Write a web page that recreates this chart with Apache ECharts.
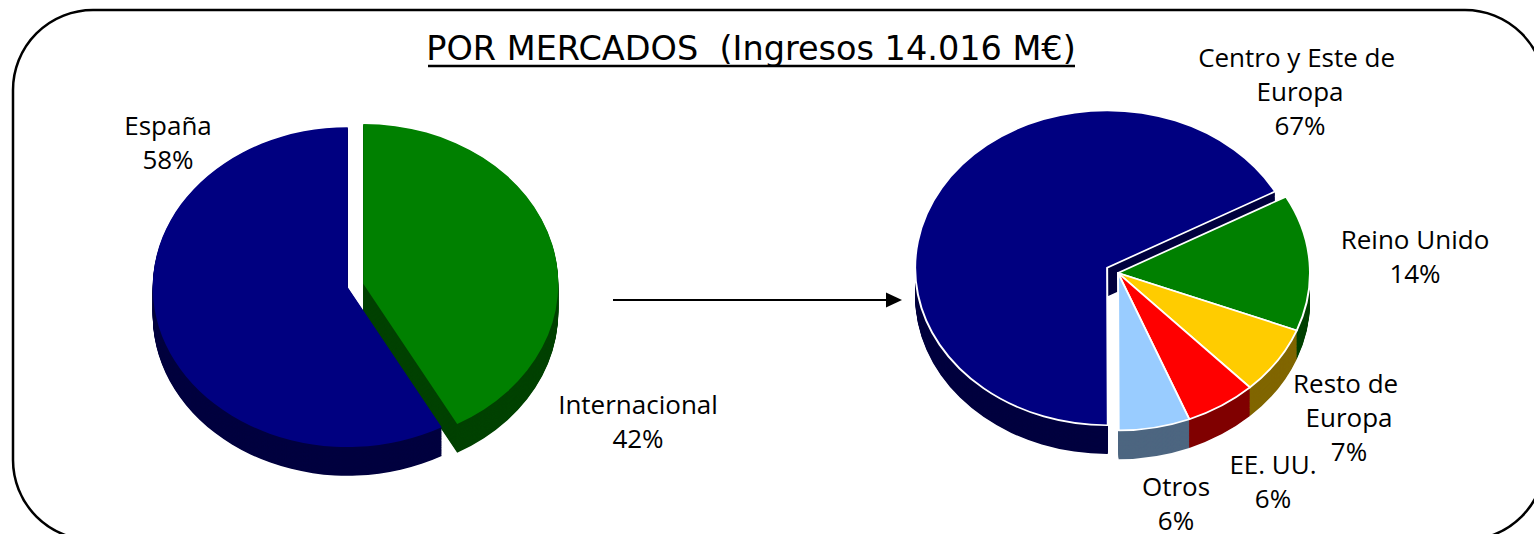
<!DOCTYPE html>
<html>
<head>
<meta charset="utf-8">
<script src="https://cdn.jsdelivr.net/npm/echarts@6/dist/echarts.min.js"></script>
<style>
html,body{margin:0;padding:0;background:#fff;}
#wrap{position:relative;width:1534px;height:534px;overflow:hidden;background:#fff;}
#pies{position:absolute;left:0;top:0;width:1534px;height:651px;transform:scaleY(0.82);transform-origin:0 0;}
#ov{position:absolute;left:0;top:0;width:1534px;height:534px;pointer-events:none;}
</style>
</head>
<body>
<div id="wrap"><div id="pies"></div><div id="ov"></div></div>
<script>
// ---- data ----
var titleText = 'POR MERCADOS  (Ingresos 14.016 M€)';
var leftNames = ['Internacional', 'España'];
var leftValues = [42, 58];
var rightNames = ['Reino Unido', 'Resto de Europa', 'EE. UU.', 'Otros', 'Centro y Este de Europa'];
var rightValues = [14, 7, 6, 6, 67];

// ---- styles ----
var FONT = '"Open Sans", "DejaVu Sans", sans-serif';
var TFONT = '"DejaVu Sans", sans-serif';
var S = 0.82;            // vertical squash of the pie layer (tilt)
var DEPTH = 35;          // extrusion depth in pie-layer px
var leftTop = ['#008000', '#000080'];
var leftSide = ['#004200', '#00003f'];
var rightTop = ['#008000', '#ffcc00', '#ff0000', '#99ccff', '#000080'];
var rightSide = ['#004200', '#806600', '#800000', '#4d6680', '#00003f'];

var pies = [
  {names: leftNames, values: leftValues, top: leftTop, side: leftSide,
   center: [355.5, 285.5 / S], r: 195, start: 90, offset: 8, sel: [true, true], border: 0},
  {names: rightNames, values: rightValues, top: rightTop, side: rightSide,
   center: [1118, 273 / S], r: 192, start: 29, offset: 12.6, sel: [false, false, false, false, true], border: 2}
];

function pieSeries(p, dy, colors, border) {
  return {
    type: 'pie', silent: true, animation: false,
    center: [p.center[0], p.center[1] + dy], radius: p.r,
    startAngle: p.start, clockwise: true,
    selectedMode: 'multiple', selectedOffset: p.offset,
    label: {show: false}, labelLine: {show: false},
    emphasis: {disabled: true},
    itemStyle: {borderColor: '#fff', borderWidth: border},
    data: p.values.map(function (v, i) {
      return {name: p.names[i], value: v, selected: p.sel[i], itemStyle: {color: colors[i]}};
    })
  };
}

var series = [];
pies.forEach(function (p) {
  for (var d = DEPTH; d >= 1; d--) series.push(pieSeries(p, d, p.side, 0));
});
pies.forEach(function (p) { series.push(pieSeries(p, 0, p.top, p.border)); });

var pc = echarts.init(document.getElementById('pies'), null, {renderer: 'svg'});
pc.setOption({animation: false, series: series});

// ---- overlay: frame, title, arrow, labels ----
var labelPos = {
  'España': [168, 108, 200],
  'Internacional': [638, 387, 300],
  'Centro y Este de Europa': [1300, 40, 240],
  'Reino Unido': [1415, 222, 300],
  'Resto de Europa': [1349, 366, 150],
  'EE. UU.': [1273, 447, 200],
  'Otros': [1176, 469, 200]
};
var labels = [];
function addLabels(names, values) {
  names.forEach(function (n, i) {
    var pos = labelPos[n];
    labels.push({
      type: 'text', x: pos[0], y: pos[1], silent: true,
      style: {
        text: n + '\n' + values[i] + '%', fill: '#000',
        font: '26px ' + FONT, align: 'center', verticalAlign: 'top',
        width: pos[2], overflow: 'break', lineHeight: 34
      }
    });
  });
}
addLabels(leftNames, leftValues);
addLabels(rightNames, rightValues);

var oc = echarts.init(document.getElementById('ov'), null, {renderer: 'svg'});
oc.setOption({
  animation: false,
  graphic: [
    {type: 'rect', silent: true, shape: {x: 13, y: 10, width: 1532, height: 530, r: 80},
     style: {fill: 'none', stroke: '#000', lineWidth: 2.5}},
    {type: 'text', silent: true, x: 751, y: 48,
     style: {text: titleText, fill: '#000', font: '33.5px ' + TFONT, align: 'center', verticalAlign: 'middle'}},
    {type: 'line', silent: true, shape: {x1: 428, y1: 66, x2: 1075, y2: 66},
     style: {stroke: '#000', lineWidth: 2.5}},
    {type: 'line', silent: true, shape: {x1: 613, y1: 300, x2: 888, y2: 300},
     style: {stroke: '#000', lineWidth: 2}},
    {type: 'polygon', silent: true, shape: {points: [[886, 292.5], [902, 300], [886, 307.5]]},
     style: {fill: '#000'}}
  ].concat(labels)
});
</script>
</body>
</html>
